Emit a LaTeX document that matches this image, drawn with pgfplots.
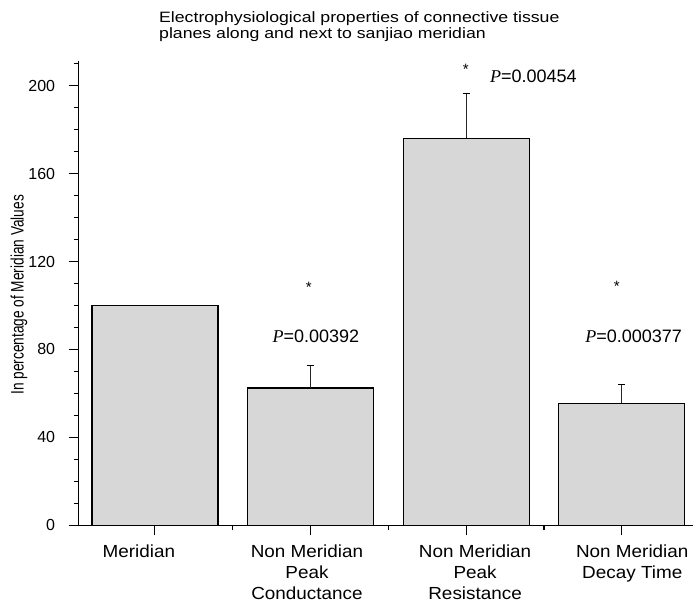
\documentclass[border=0pt]{standalone}
\usepackage{fontspec}
\setmainfont{Liberation Sans}
\newfontfamily\serifit{Liberation Serif}
\newfontfamily\widesans[FakeStretch=1.18]{Liberation Sans}
\newfontfamily\catsans[FakeStretch=1.08]{Liberation Sans}
\newfontfamily\narrowsans[FakeStretch=0.76]{Liberation Sans}
\usepackage{pgfplots}
\pgfplotsset{compat=1.18}
\definecolor{barfill}{RGB}{215,215,215}

\begin{document}
\begin{tikzpicture}
\begin{axis}[
  name=ax,
  scale only axis,
  width=615pt, height=464pt,
  xmin=-0.49, xmax=3.46,
  ymin=0, ymax=211,
  axis lines*=left,
  axis line style={line width=1.1pt},
  tick align=outside,
  major tick length=10pt, minor tick length=5pt,
  tick style={line width=1.1pt, black},
  xtick={0,1,2,3},
  minor xtick={0.5,1.5,2.5},
  xticklabels={},
  ytick={0,40,...,200},
  minor ytick={10,20,...,210},
  yticklabel style={font=\fontsize{16}{18}\selectfont, xshift=-10pt},
  /pgf/number format/assume math mode=true,
  ylabel={In percentage of Meridian Values},
  ylabel style={font=\narrowsans\fontsize{18}{20}\selectfont,
    at={(axis description cs:-0.0971,0.4967)}, anchor=center},
  clip=false,
  ybar, bar width=126pt,
]
\addplot[draw=black, line width=1.2pt, fill=barfill,
  error bars/.cd, y dir=plus, y explicit,
  error bar style={line width=1.1pt, black!85},
  error mark options={rotate=90, mark size=3.5pt, line width=1.1pt, black}]
  coordinates {(0,100) +- (0,0) (1,62.5) +- (0,10) (2,176) +- (0,20.5) (3,55.5) +- (0,8.5)};

% category names under the ticks
\begin{scope}[every node/.style={font=\catsans\fontsize{17.5}{21}\selectfont, align=center, anchor=north, inner sep=0pt}]
\node at (axis cs:-0.103,-8.6) {Meridian};
\node at (axis cs:0.977,-8.6) {Non Meridian\\Peak\\Conductance};
\node at (axis cs:2.057,-8.6) {Non Meridian\\Peak\\Resistance};
\node at (axis cs:3.067,-8.6) {Non Meridian\\Decay Time};
\end{scope}

% significance marks and p-values
\node[font=\fontsize{15}{18}\selectfont] at (axis cs:0.989,108.4) {*};
\node[font=\fontsize{18}{20}\selectfont] at (axis cs:1.034,86.2) {{\serifit\itshape P}=0.00392};
\node[font=\fontsize{15}{18}\selectfont] at (axis cs:1.997,207.5) {*};
\node[font=\fontsize{18}{20}\selectfont, anchor=west, inner sep=0pt] at (axis cs:2.152,204.1) {{\serifit\itshape P}=0.00454};
\node[font=\fontsize{15}{18}\selectfont] at (axis cs:2.967,108.5) {*};
\node[font=\fontsize{18}{20}\selectfont] at (axis cs:3.076,86.2) {{\serifit\itshape P}=0.000377};

% two-line title
\node[font=\widesans\fontsize{15}{16.5}\selectfont, anchor=base west, inner sep=0pt] at (axis cs:0.026,228.6) {Electrophysiological properties of connective tissue};
\node[font=\widesans\fontsize{15}{16.5}\selectfont, anchor=base west, inner sep=0pt] at (axis cs:0.026,221.5) {planes along and next to sanjiao meridian};
\end{axis}
\path ([xshift=-78.7pt, yshift=-78.5pt]ax.south west) rectangle ([yshift=61.5pt]ax.north east);
\end{tikzpicture}
\end{document}
